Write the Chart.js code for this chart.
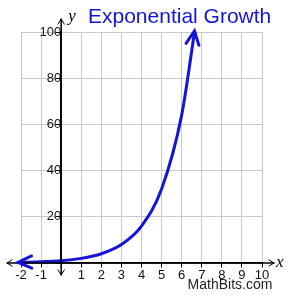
<!DOCTYPE html>
<html lang="en">
<head>
<meta charset="UTF-8">
<title>Exponential Growth</title>
<style>
    body { margin: 0; background: #fff; }
    .wrap { width: 300px; height: 300px; }
</style>
<script src="https://cdn.jsdelivr.net/npm/chart.js"></script>
</head>
<body>
<div class="wrap"><canvas id="chart" width="300" height="300"></canvas></div>
<script>
    // points (y = 2^x)
    const xValues = [-2, -1, 0, 1, 2, 3, 4, 5, 6, 6.64];
    const yValues = [0.25, 0.5, 1, 2, 4, 8, 16, 32, 64, 100];
    const xRange = [-2, 10];
    const yRange = [0, 100];

    const blue = '#1414d8';
    const font = "'Liberation Sans', Arial, sans-serif";

    function arrowHead(ctx, tipX, tipY, fromX, fromY, len, spread) {
        const a = Math.atan2(tipY - fromY, tipX - fromX);
        ctx.beginPath();
        ctx.moveTo(tipX - len * Math.cos(a - spread), tipY - len * Math.sin(a - spread));
        ctx.lineTo(tipX, tipY);
        ctx.lineTo(tipX - len * Math.cos(a + spread), tipY - len * Math.sin(a + spread));
        ctx.stroke();
    }

    const extras = {
        id: 'extras',
        afterDraw(chart) {
            const ctx = chart.ctx;
            const xs = chart.scales.x, ys = chart.scales.y;
            const area = chart.chartArea;
            const x0 = xs.getPixelForValue(0);
            const y0 = ys.getPixelForValue(0);
            ctx.save();
            ctx.lineCap = 'round';
            // axis extensions with arrows
            ctx.strokeStyle = '#000';
            ctx.lineWidth = 1.5;
            ctx.beginPath();
            ctx.moveTo(area.left - 14, y0); ctx.lineTo(area.right + 12, y0);
            ctx.moveTo(x0, area.top - 13); ctx.lineTo(x0, area.bottom + 12);
            ctx.stroke();
            ctx.lineWidth = 1;
            arrowHead(ctx, area.left - 14, y0, area.left, y0, 6, 0.55);
            arrowHead(ctx, area.right + 12, y0, area.right, y0, 6, 0.55);
            arrowHead(ctx, x0, area.top - 13, x0, area.top, 6, 0.55);
            arrowHead(ctx, x0, area.bottom + 12, x0, area.bottom, 6, 0.55);

            // arrowheads on the curve
            const pts = chart.getDatasetMeta(0).data;
            ctx.strokeStyle = blue;
            ctx.lineWidth = 3;
            const f = pts[0], f2 = pts[1];
            arrowHead(ctx, f.x - 3, f.y, f2.x, f2.y, 15, 0.42);
            const l = pts[pts.length - 1], l2 = pts[pts.length - 2];
            arrowHead(ctx, l.x, l.y - 1, l2.x, l2.y, 15, 0.45);

            // labels
            ctx.fillStyle = '#000';
            ctx.font = "italic 17px 'Liberation Serif', 'Times New Roman', serif";
            ctx.textBaseline = 'alphabetic';
            ctx.textAlign = 'left';
            ctx.fillText('y', x0 + 7, area.top - 11);
            ctx.fillText('x', area.right + 14, y0 + 4);

            ctx.fillStyle = blue;
            ctx.font = '21px ' + font;
            ctx.fillText('Exponential Growth', 88, 23);

            ctx.fillStyle = '#222';
            ctx.font = '14px ' + font;
            ctx.textAlign = 'center';
            ctx.fillText('MathBits.com', 230, 289);
            ctx.restore();
        }
    };

    new Chart(document.getElementById('chart'), {
        type: 'scatter',
        data: {
            datasets: [{
                data: xValues.map((x, i) => ({ x: x, y: yValues[i] })),
                showLine: true,
                borderColor: blue,
                borderWidth: 3,
                pointRadius: 0,
                cubicInterpolationMode: 'monotone'
            }]
        },
        options: {
            responsive: false,
            animation: false,
            layout: { padding: { left: 21, right: 38, top: 32, bottom: 37 } },
            plugins: { legend: { display: false }, tooltip: { enabled: false } },
            scales: {
                x: {
                    type: 'linear',
                    min: xRange[0], max: xRange[1],
                    position: { y: 0 },
                    grid: { color: '#c8c8c8', tickColor: '#000', tickLength: 4 },
                    border: { color: '#000', width: 1.5 },
                    ticks: {
                        stepSize: 1,
                        color: '#111',
                        font: { family: font, size: 13 },
                        padding: 1,
                        maxRotation: 0,
                        callback: v => v === 0 ? '' : v
                    }
                },
                y: {
                    type: 'linear',
                    min: yRange[0], max: yRange[1],
                    position: { x: 0 },
                    grid: { color: '#c8c8c8', tickColor: '#000', tickLength: 4 },
                    border: { color: '#000', width: 1.5 },
                    ticks: {
                        stepSize: 20,
                        color: '#111',
                        font: { family: font, size: 13 },
                        padding: 1,
                        callback: v => v === 0 ? '' : v
                    }
                }
            }
        },
        plugins: [extras]
    });
</script>
</body>
</html>
